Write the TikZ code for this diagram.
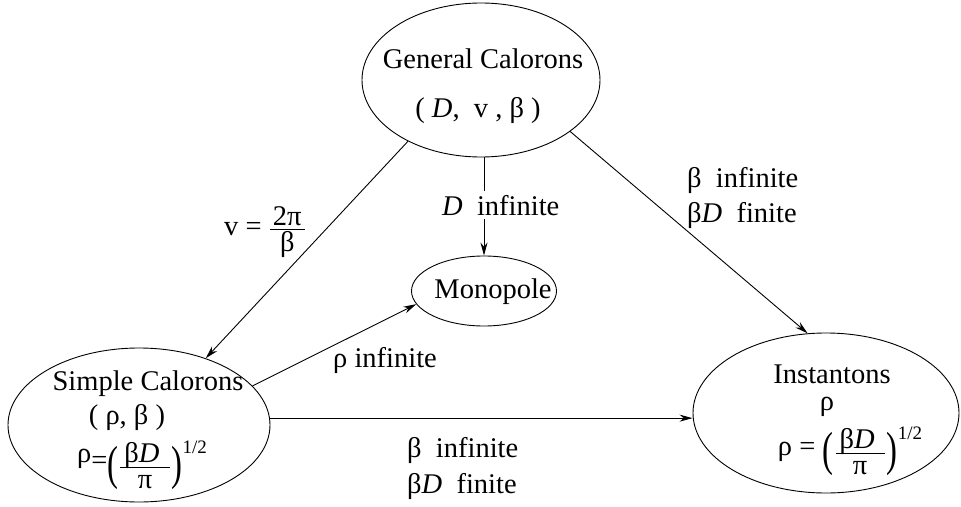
\documentclass[tikz,border=0pt]{standalone}
\usepackage{fontspec}
\usepackage{graphicx}
\setmainfont{Liberation Serif}
\usetikzlibrary{shapes.geometric,arrows.meta}
\newcommand\mytxt[1]{\mbox{#1}}
\newcommand\lpar{\raisebox{-10pt}{\scalebox{1.15}[1.68]{(}}\hspace{1pt}}
\newcommand\rpar{\hspace{1pt}\raisebox{-10pt}{\scalebox{1.15}[1.68]{)}}}
\newcommand\bdpi{\raisebox{-4pt}{$\frac{\mytxt{\hspace{4pt}\smash{\raisebox{1pt}{β\textit{D}}}\hspace{10pt}}}{\mytxt{\rule{0pt}{21pt}π}}$}}
\newcommand\half{\raisebox{15.5pt}{\fontsize{19}{19}\selectfont 1/2}}
\begin{document}
\begin{tikzpicture}[x=1pt,y=-1pt,
  ell/.style={draw,ellipse,inner sep=0pt,line width=0.9pt},
  txt/.style={inner sep=0pt,anchor=base,font=\fontsize{28.5}{34}\selectfont},
  lbl/.style={inner sep=0pt,anchor=base west,font=\fontsize{28.5}{34}\selectfont},
  conn/.style={line width=0.9pt,-{Stealth[length=13pt,width=7pt]}}]
\useasboundingbox (0,0) rectangle (961,506);
% ellipses
\node[ell,minimum width=238pt,minimum height=154pt] (gen) at (481,80) {};
\node[ell,minimum width=145pt,minimum height=70pt] (mono) at (484,291) {};
\node[ell,minimum width=262pt,minimum height=154pt] (simp) at (139,425) {};
\node[ell,minimum width=266pt,minimum height=160pt] (inst) at (826,413) {};
% texts inside
\node[txt] (gen1) at (483,68) {General Calorons};
\node[txt] (gen2) at (478,117) {( \textit{D},\ \ v , β )};
\node[txt] (mono1) at (493,298) {Monopole};
\node[txt] (simp1) at (148,390) {Simple Calorons};
\node[txt] (simp2) at (127,424) {( ρ, β )};
\node[txt] (simp3) at (142,469) {\raisebox{7pt}{ρ}=\lpar\bdpi\rpar\half};
\node[txt] (inst1) at (832,383) {Instantons};
\node[txt] (inst2) at (827,410) {ρ};
\node[txt] (inst3) at (850,455) {ρ = \lpar\bdpi\rpar\half};
% connectors
\draw[conn] (gen.south -| mono.north) -- (mono.north);
\draw[conn] (gen.220) -- (simp.45);
\draw[conn] (gen.-30) -- (inst.103);
\draw[conn] (simp.19) -- (mono.191);
\draw[conn] (simp.3) -- (simp.3 -| inst.west);
% labels
\node[lbl,fill=white,inner sep=4pt,anchor=base west] (ldinf) at (438,215) {\textit{D}\ \ infinite};
\node[txt] (lv) at (265,235) {v = $\frac{\mytxt{\hspace{3pt}2π\hspace{3pt}}}{\mytxt{\rule{0pt}{22pt}β}}$};
\node[lbl] (lrho) at (333,367) {ρ infinite};
\node[lbl] (lr1) at (687,187) {β\ \ infinite};
\node[lbl] (lr2) at (687,222) {β\textit{D}\ \ finite};
\node[lbl] (lb1) at (407,457) {β\ \ infinite};
\node[lbl] (lb2) at (407,493) {β\textit{D}\ \ finite};
\end{tikzpicture}
\end{document}
